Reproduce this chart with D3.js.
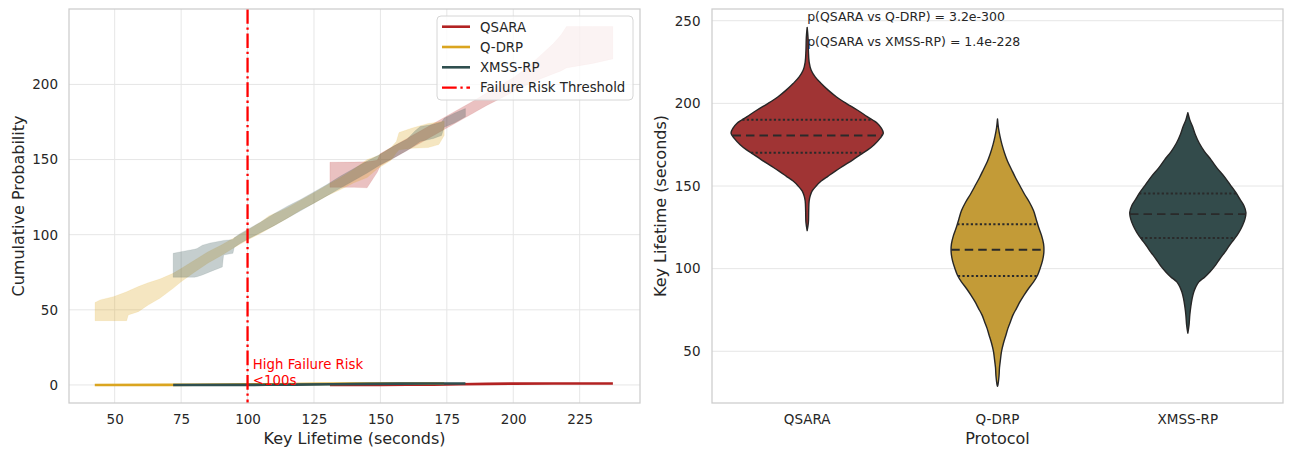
<!DOCTYPE html>
<html><head><meta charset="utf-8">
<script src="https://cdn.jsdelivr.net/npm/d3@7"></script>
<style>
body{margin:0;background:#fff}
text{font-family:"DejaVu Sans",sans-serif}
</style>
</head><body>
<svg id="c" width="1289" height="449"></svg>
<script>
// ---------------- DATA ----------------
const protocols = ["QSARA", "Q-DRP", "XMSS-RP"];

// Left panel: empirical CDF points [key lifetime, cumulative probability]
const qsaraEcdf = [[131,0],[150,0.05],[160,0.1],[170,0.25],[180,0.5],[190,0.75],[200,0.9],[215,0.98],[237.5,1]];
const qdrpEcdf  = [[42.5,0],[70,0.05],[80,0.1],[95,0.25],[111,0.5],[126,0.75],[140,0.9],[155,0.97],[174,1]];
const xmssEcdf  = [[72,0],[95,0.05],[107,0.1],[118,0.25],[132,0.5],[145,0.75],[157,0.9],[168,0.97],[182,1]];

// Left panel: bands [key lifetime, lower, upper]
const qsaraBand = [[131,131.5,148.2],[140,131.5,148.3],[145,131.2,148.5],[148.8,141.5,149.5],[150,146,154],
  [155,151,159],[160,156,164],[165,161,169],[170,166,174],[175,171,179],[180,176,184],[185,181,189],
  [190,186,194.5],[195,190.5,199.5],[200,195,204.5],[205,199.5,211],[210,203.5,219],[215,207,227],[218,209,233],
  [220,211,238.5],[230,214,238.5],[237.5,217,238.5]];
const qdrpBand = [[42.6,42.8,54.8],[44.5,42.8,56.6],[49.5,42.8,58.7],[54.5,42.8,62],[55.1,46.6,62.5],
  [58.9,48.8,65.5],[62.6,53.2,68],[67,57.7,70.5],[72,64.3,74.3],[75,68.7,77.5],[80,75,83],[85,81,88.5],
  [90,86,93],[95,91.5,98],[100,96.5,103],[105,101,108.5],[108,104,112.5],[112,108,115.5],[115,111,118],
  [120,116.5,123],[125,121,128],[130,126,133],[135,130,138],[140,134.5,143.5],[145,138,150],[149,144,152.5],
  [154,149.5,158],[156,154.5,162],[157,156.5,168],[162,157.5,171],[168,158,174],[172,160,175],[174,166,175.5]];
const xmssBand = [[72,71.7,87.6],[75,71.7,88.7],[80,71.7,90.3],[81,72,90.8],[83,73.2,93],[86,75.4,94.5],
  [90.5,78.5,96],[91,86.5,96.2],[94.5,87.6,96.8],[95,91.5,98],[97,94,100.5],[100,97,103.5],[105,101.5,108.5],
  [110,106,114],[115,111,119],[120,116,123.5],[125,121,128.5],[130,126,133.5],[135,131,139],
  [140,136,144],[145,141,149],[150,146.5,153.5],[155,151,159],[160,156,163.5],[163,159.5,169],[165,162,172],
  [170,164,173.5],[173,166,175],[174,171.5,177.5],[178,174.5,181],[182,178.5,184]];

const thresholdValue = 100;
const leftXTicks = [50,75,100,125,150,175,200,225];
const leftYTicks = [0,50,100,150,200];

// Right panel: violin density profiles [key lifetime, relative density]
const qsaraViolin = [[246,0],[240,0.011],[232,0.016],[225,0.026],[220,0.053],[216,0.105],[212,0.184],
  [208,0.276],[204,0.382],[200,0.513],[196,0.658],[192,0.789],[188,0.921],[185,0.974],[182,1.0],[179,0.96],
  [175,0.88],[172,0.80],[169,0.70],[166,0.605],[162,0.47],[159,0.37],[156,0.276],[153,0.184],[150,0.118],
  [147,0.066],[144,0.04],[141,0.026],[135,0.02],[128,0.016],[123,0]];
const qdrpViolin = [[190.5,0],[185,0.013],[180,0.033],[175,0.059],[170,0.092],[165,0.132],[160,0.184],
  [155,0.237],[150,0.296],[145,0.355],[140,0.421],[135,0.474],[130,0.507],[125,0.54],[120,0.579],[115,0.605],
  [110,0.609],[105,0.592],[100,0.559],[96,0.526],[92,0.474],[88,0.408],[84,0.349],[80,0.296],[76,0.25],
  [72,0.204],[68,0.171],[64,0.138],[60,0.112],[55,0.079],[50,0.053],[45,0.039],[40,0.026],[35,0.02],
  [30,0.007],[28.8,0]];
const xmssViolin = [[194.3,0],[190,0.026],[186,0.062],[181,0.099],[176,0.149],[171,0.217],[166,0.303],
  [161,0.382],[156,0.474],[151,0.553],[146,0.632],[142,0.684],[138,0.737],[134,0.763],[130,0.75],[126,0.717],
  [122,0.671],[118,0.612],[114,0.546],[110,0.487],[106,0.421],[102,0.362],[98,0.289],[95,0.224],[92,0.145],
  [89,0.105],[86,0.079],[82,0.057],[77,0.039],[72,0.026],[66,0.016],[61,0]];
// quartiles [Q1, median, Q3]
const qsaraQuart = [170.1, 180.6, 190.1];
const qdrpQuart  = [95.5, 111.4, 126.8];
const xmssQuart  = [118.5, 133, 145.5];
const rightYTicks = [50,100,150,200,250];
const pTexts = ["p(QSARA vs Q-DRP) = 3.2e-300", "p(QSARA vs XMSS-RP) = 1.4e-228"];
const pTextY = [250, 235];

// ---------------- STYLE ----------------
const lineColor = {"QSARA":"#b22222","Q-DRP":"#daa520","XMSS-RP":"#2f4f4f"};
const violinColor = {"QSARA":"#a03434","Q-DRP":"#c39b37","XMSS-RP":"#334b4b"};
const textColor = "#262626", gridColor = "#e6e6e6", frameColor = "#cccccc";
const tickFont = "13.5px", labelFont = "16px";

const ecdf = {"QSARA":qsaraEcdf,"Q-DRP":qdrpEcdf,"XMSS-RP":xmssEcdf};
const bands = {"QSARA":qsaraBand,"Q-DRP":qdrpBand,"XMSS-RP":xmssBand};
const violins = {"QSARA":qsaraViolin,"Q-DRP":qdrpViolin,"XMSS-RP":xmssViolin};
const quarts = {"QSARA":qsaraQuart,"Q-DRP":qdrpQuart,"XMSS-RP":xmssQuart};

const svg = d3.select("#c");
svg.append("rect").attr("width",1289).attr("height",449).attr("fill","#fff");

// ============ LEFT PANEL ============
const L = {x0:69, x1:640, y0:9, y1:403};
const xL = d3.scaleLinear().domain([32.8,247.7]).range([L.x0,L.x1]);
const yL = d3.scaleLinear().domain([-12,250.2]).range([L.y1,L.y0]);
const gL = svg.append("g");
gL.append("defs").append("clipPath").attr("id","clipL").append("rect")
  .attr("x",L.x0).attr("y",L.y0).attr("width",L.x1-L.x0).attr("height",L.y1-L.y0);

gL.selectAll(".gx").data(leftXTicks).join("line")
  .attr("x1",d=>xL(d)).attr("x2",d=>xL(d)).attr("y1",L.y0).attr("y2",L.y1)
  .attr("stroke",gridColor).attr("stroke-width",1);
gL.selectAll(".gy").data(leftYTicks).join("line")
  .attr("y1",d=>yL(d)).attr("y2",d=>yL(d)).attr("x1",L.x0).attr("x2",L.x1)
  .attr("stroke",gridColor).attr("stroke-width",1);

const plotL = gL.append("g").attr("clip-path","url(#clipL)");
const bandArea = d3.area().x(d=>xL(d[0])).y0(d=>yL(d[1])).y1(d=>yL(d[2])).curve(d3.curveLinear);
protocols.forEach(p=>{
  plotL.append("path").attr("d",bandArea(bands[p]))
    .attr("fill",lineColor[p]).attr("fill-opacity",0.28)
    .attr("stroke",lineColor[p]).attr("stroke-opacity",0.12).attr("stroke-width",0.8);
});
const ecdfLine = d3.line().x(d=>xL(d[0])).y(d=>yL(d[1]));
protocols.forEach(p=>{
  plotL.append("path").attr("d",ecdfLine(ecdf[p]))
    .attr("fill","none").attr("stroke",lineColor[p]).attr("stroke-width",2.6);
});
plotL.append("line").attr("x1",xL(thresholdValue)).attr("x2",xL(thresholdValue))
  .attr("y1",L.y0).attr("y2",L.y1).attr("stroke","#ff0000").attr("stroke-width",2.3)
  .attr("stroke-dasharray","14.7,3.7,2.3,3.7");
const ann = gL.append("text").attr("x",xL(102)).attr("y",yL(0)+0.5)
  .attr("fill","#ff0000").style("font-size","13.3px");
ann.append("tspan").attr("x",xL(102)).attr("dy",-16).text("High Failure Risk");
ann.append("tspan").attr("x",xL(102)).attr("dy",16).text("<100s");

gL.append("rect").attr("x",L.x0).attr("y",L.y0).attr("width",L.x1-L.x0).attr("height",L.y1-L.y0)
  .attr("fill","none").attr("stroke",frameColor).attr("stroke-width",1.25);

const axLB = gL.append("g").attr("transform",`translate(0,${L.y1})`)
  .call(d3.axisBottom(xL).tickValues(leftXTicks).tickSize(0).tickPadding(11.3));
const axLL = gL.append("g").attr("transform",`translate(${L.x0},0)`)
  .call(d3.axisLeft(yL).tickValues(leftYTicks).tickSize(0).tickPadding(11));
[axLB,axLL].forEach(a=>{a.select(".domain").remove();
  a.selectAll("text").attr("fill",textColor).style("font-size",tickFont).style("font-family","DejaVu Sans");});

gL.append("text").attr("x",(L.x0+L.x1)/2).attr("y",444).attr("text-anchor","middle")
  .attr("fill",textColor).style("font-size",labelFont).text("Key Lifetime (seconds)");
gL.append("text").attr("transform",`translate(24,${(L.y0+L.y1)/2}) rotate(-90)`).attr("text-anchor","middle")
  .attr("fill",textColor).style("font-size",labelFont).text("Cumulative Probability");

const lg = gL.append("g");
lg.append("rect").attr("x",437).attr("y",16).attr("width",196).attr("height",84).attr("rx",4)
  .attr("fill","#fff").attr("fill-opacity",0.8).attr("stroke","#d6d6d6").attr("stroke-width",1);
const legItems = protocols.map(p=>({label:p,color:lineColor[p],dash:null}))
  .concat([{label:"Failure Risk Threshold",color:"#ff0000",dash:"14.7,3.7,2.3,3.7"}]);
legItems.forEach((it,i)=>{
  const y = 26.7 + i*20.3;
  lg.append("line").attr("x1",442).attr("x2",470).attr("y1",y).attr("y2",y)
    .attr("stroke",it.color).attr("stroke-width",it.dash?2.3:2.6)
    .attr("stroke-dasharray",it.dash);
  lg.append("text").attr("x",480).attr("y",y+4.8).attr("fill",textColor)
    .style("font-size","13.3px").text(it.label);
});

// ============ RIGHT PANEL ============
const R = {x0:712, x1:1283, y0:9, y1:403};
const xR = d3.scaleBand().domain(protocols).range([R.x0,R.x1]).padding(0);
const yR = d3.scaleLinear().domain([18.7,257.1]).range([R.y1,R.y0]);
const wR = d3.scaleLinear().domain([0,1]).range([0,xR.bandwidth()*0.4]);
const gR = svg.append("g");

gR.selectAll(".gy").data(rightYTicks).join("line")
  .attr("y1",d=>yR(d)).attr("y2",d=>yR(d)).attr("x1",R.x0).attr("x2",R.x1)
  .attr("stroke",gridColor).attr("stroke-width",1);

function densAt(prof, v){
  for(let i=0;i<prof.length-1;i++){
    const a=prof[i], b=prof[i+1];
    if(v<=a[0] && v>=b[0]){const t=(a[0]-v)/(a[0]-b[0]); return a[1]+(b[1]-a[1])*t;}
  }
  return 0;
}
protocols.forEach(p=>{
  const cx = xR(p)+xR.bandwidth()/2;
  const area = d3.area().y(d=>yR(d[0])).x0(d=>cx-wR(d[1])).x1(d=>cx+wR(d[1])).curve(d3.curveCatmullRom);
  gR.append("path").attr("d",area(violins[p])).attr("fill",violinColor[p])
    .attr("stroke","#262626").attr("stroke-width",1.4).attr("stroke-linejoin","round");
  quarts[p].forEach((q,i)=>{
    const w = wR(densAt(violins[p],q));
    gR.append("line").attr("x1",cx-w).attr("x2",cx+w).attr("y1",yR(q)).attr("y2",yR(q))
      .attr("stroke","#2a2a2a").attr("stroke-width",i===1?1.9:2)
      .attr("stroke-dasharray",i===1?"8.5,5":"2.2,2.3");
  });
});

gR.append("rect").attr("x",R.x0).attr("y",R.y0).attr("width",R.x1-R.x0).attr("height",R.y1-R.y0)
  .attr("fill","none").attr("stroke",frameColor).attr("stroke-width",1.25);

const axRB = gR.append("g").attr("transform",`translate(0,${R.y1})`)
  .call(d3.axisBottom(xR).tickSize(0).tickPadding(11.3));
const axRL = gR.append("g").attr("transform",`translate(${R.x0},0)`)
  .call(d3.axisLeft(yR).tickValues(rightYTicks).tickSize(0).tickPadding(11.5));
[axRB,axRL].forEach(a=>{a.select(".domain").remove();
  a.selectAll("text").attr("fill",textColor).style("font-size",tickFont).style("font-family","DejaVu Sans");});

gR.append("text").attr("x",(R.x0+R.x1)/2).attr("y",444).attr("text-anchor","middle")
  .attr("fill",textColor).style("font-size",labelFont).text("Protocol");
gR.append("text").attr("transform",`translate(666,${(R.y0+R.y1)/2}) rotate(-90)`).attr("text-anchor","middle")
  .attr("fill",textColor).style("font-size",labelFont).text("Key Lifetime (seconds)");

pTexts.forEach((t,i)=>{
  gR.append("text").attr("x",xR("QSARA")+xR.bandwidth()/2).attr("y",yR(pTextY[i]))
    .attr("fill",textColor).style("font-size","12.5px").text(t);
});
</script>
</body></html>
